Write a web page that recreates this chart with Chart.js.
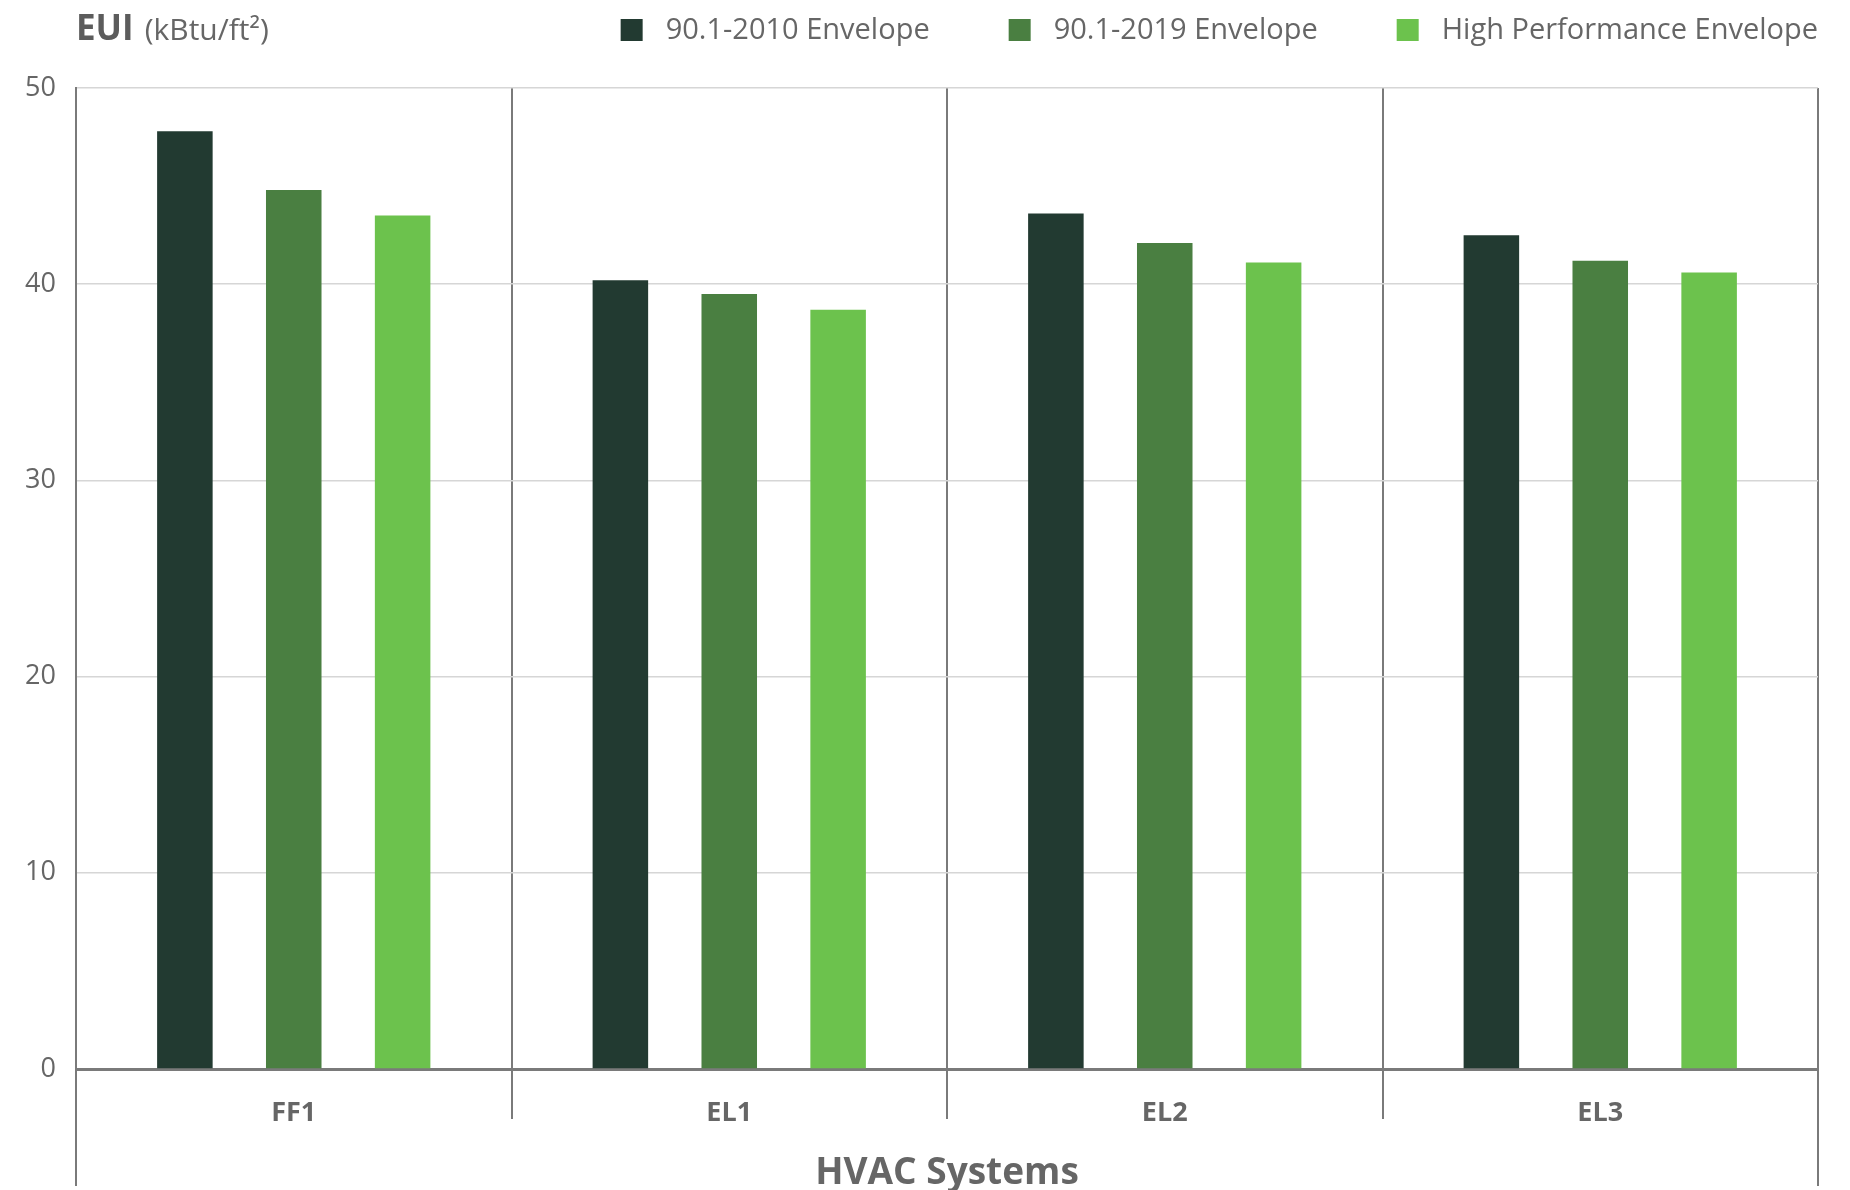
<!DOCTYPE html>
<html>
<head>
<meta charset="utf-8">
<title>EUI by HVAC System</title>
<script src="https://cdn.jsdelivr.net/npm/chart.js@4/dist/chart.umd.min.js"></script>
<style>
  html, body { margin: 0; padding: 0; background: #ffffff; }
  #wrap { width: 1850px; height: 1190px; position: relative; }
</style>
</head>
<body>
<div id="wrap"><canvas id="eui"></canvas></div>
<script>
// HVAC system categories
const systems = ['FF1', 'EL1', 'EL2', 'EL3'];

// Series names
const seriesNames = ['90.1-2010 Envelope', '90.1-2019 Envelope', 'High Performance Envelope'];

// EUI values (kBtu/ft²) per system
const env2010 = [47.8, 40.2, 43.6, 42.5];
const env2019 = [44.8, 39.5, 42.1, 41.2];
const envHighPerf = [43.5, 38.7, 41.1, 40.6];

// Y axis range and step
const yMin = 0;
const yMax = 50;
const yStep = 10;

const seriesColors = ['#223a31', '#4a7f41', '#6cc24d'];
const FONT = '"Open Sans", "Liberation Sans", sans-serif';
const TEXT = '#666666';
const AXIS_LINE = '#7a7a7a';

// Title ("EUI (kBtu/ft²)") and a custom legend along the top
const headerPlugin = {
  id: 'header',
  afterDraw(chart) {
    const ctx = chart.ctx;
    const area = chart.chartArea;
    ctx.save();
    ctx.textBaseline = 'alphabetic';
    ctx.textAlign = 'left';
    ctx.fillStyle = '#5c5c5c';
    ctx.font = 'bold 35px ' + FONT;
    const x0 = area.left;
    ctx.fillText('EUI', x0, 40);
    const w = ctx.measureText('EUI').width;
    ctx.fillStyle = TEXT;
    ctx.font = '30px ' + FONT;
    ctx.fillText('(kBtu/ft²)', x0 + w + 11, 40);

    // legend
    ctx.font = '29px ' + FONT;
    ctx.textBaseline = 'middle';
    const box = 22, boxGap = 23, itemGap = 79;
    const items = chart.data.datasets.map(d => ({ label: d.label, color: d.backgroundColor }));
    let total = 0;
    items.forEach((it, i) => {
      it.w = ctx.measureText(it.label).width;
      total += box + boxGap + it.w + (i < items.length - 1 ? itemGap : 0);
    });
    let x = area.right - total;
    const cy = 30;
    items.forEach(it => {
      ctx.fillStyle = it.color;
      ctx.fillRect(x, cy - box / 2, box, box);
      x += box + boxGap;
      ctx.fillStyle = TEXT;
      ctx.fillText(it.label, x, cy + 1);
      x += it.w + itemGap;
    });
    ctx.restore();
  }
};

// Outer frame lines run all the way to the bottom of the canvas
const frameEdgePlugin = {
  id: 'frameEdge',
  afterDraw(chart) {
    const ctx = chart.ctx;
    const xs = chart.scales.x;
    ctx.save();
    ctx.strokeStyle = AXIS_LINE;
    ctx.lineWidth = 2;
    [xs.left, xs.right].forEach(px => {
      ctx.beginPath();
      ctx.moveTo(px, chart.chartArea.bottom);
      ctx.lineTo(px, chart.height - 4);
      ctx.stroke();
    });
    ctx.restore();
  }
};

const datasets = [env2010, env2019, envHighPerf].map((vals, i) => ({
  label: seriesNames[i],
  data: vals,
  backgroundColor: seriesColors[i],
  borderWidth: 0,
  categoryPercentage: 0.75,
  barPercentage: 0.51
}));

new Chart(document.getElementById('eui'), {
  type: 'bar',
  data: { labels: systems, datasets },
  options: {
    responsive: true,
    maintainAspectRatio: false,
    animation: false,
    devicePixelRatio: 1,
    layout: { padding: { top: 88, right: 32, left: 0, bottom: 0 } },
    plugins: {
      legend: { display: false },
      title: { display: false },
      tooltip: { enabled: false }
    },
    scales: {
      x: {
        afterFit(scale) { scale.height = 121; },
        grid: {
          offset: true,
          color: AXIS_LINE,
          lineWidth: 2,
          tickLength: 50,
          drawTicks: true
        },
        border: { display: true, color: AXIS_LINE, width: 3 },
        ticks: {
          color: TEXT,
          padding: -22,
          font: { family: FONT, size: 27, weight: 'bold' }
        },
        title: {
          display: true,
          text: 'HVAC Systems',
          color: TEXT,
          padding: { top: 0, bottom: -6 },
          font: { family: FONT, size: 37, weight: 'bold' }
        }
      },
      y: {
        min: yMin,
        max: yMax,
        afterFit(scale) { scale.width = 76; },
        ticks: {
          stepSize: yStep,
          color: TEXT,
          padding: 20,
          font: { family: FONT, size: 27 }
        },
        grid: {
          drawTicks: false,
          color: ctx => (ctx.tick && ctx.tick.value === 0) ? 'rgba(0,0,0,0)' : '#d6d6d6',
          lineWidth: 1.5
        },
        border: { display: true, color: AXIS_LINE, width: 2 }
      }
    }
  },
  plugins: [headerPlugin, frameEdgePlugin]
});
</script>
</body>
</html>
